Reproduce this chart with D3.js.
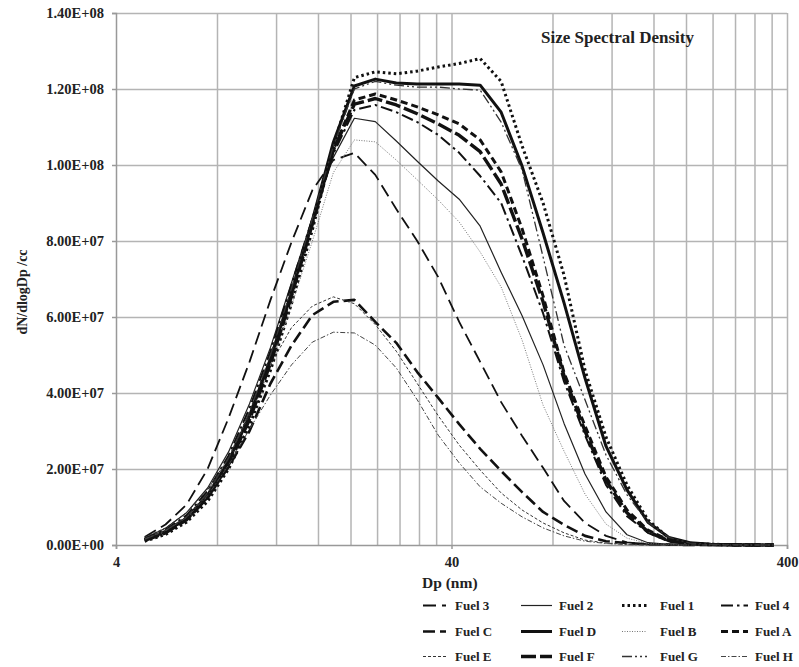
<!DOCTYPE html>
<html>
<head>
<meta charset="utf-8">
<script src="https://cdn.jsdelivr.net/npm/d3@7/dist/d3.min.js"></script>
<style>
  html, body { margin: 0; padding: 0; background: #fff; }
  svg { display: block; font-family: "Liberation Serif", "Times New Roman", serif; }
</style>
</head>
<body>
<svg id="chart" width="799" height="667"></svg>
<script>
// ---------- DATA (values in units of 1e7 particles / cc) ----------
const UNIT = 1e7;
const dp = [4.87, 5.62, 6.49, 7.50, 8.66, 10.0, 11.55, 13.34, 15.40, 17.78, 20.54, 23.71, 27.38, 31.62, 36.52,
            42.17, 48.70, 56.23, 64.94, 74.99, 86.60, 100.0, 115.5, 133.4, 154.0, 177.8, 205.4, 237.1, 273.8, 316.2, 365.2];

const fuel3 = [0.21,0.54,1.06,2.0,3.34,4.82,6.45,7.97,9.34, 10.13,10.32,9.74,8.84,8.0,7.05,5.87,4.82,3.76,2.87,2.03,1.16,0.58,0.24,0.07,0.02,0.01, 0,0,0,0,0];
const fuel2 = [0.18,0.44,0.85,1.5,2.45,3.72,5.2,6.9,8.6, 10.2,11.23,11.14,10.63,10.1,9.58,9.1,8.39,7.18,6.03,4.74,3.2,1.87,0.87,0.27,0.06,0.02,0.01, 0,0,0,0];
const fuel1 = [0.10,0.28,0.6,1.15,2.0,3.15,4.6,6.35,8.3, 10.5,12.3,12.45,12.4,12.47,12.58,12.67,12.8,12.2,10.5,9.0,7.1,4.6,2.84,1.58,0.66,0.18,0.05,0.02,0.01,0,0];
const fuel4 = [0.16,0.4,0.78,1.42,2.35,3.6,5.1,6.85,8.6, 10.3,11.45,11.58,11.39,11.13,10.79,10.32,9.71,9.0,7.6,6.1,4.3,2.89,1.58,0.76,0.32,0.1,0.03,0.01, 0,0,0];
const fuelC = [0.14,0.35,0.68,1.25,2.05,3.0,4.25,5.25,6.05, 6.4,6.45,5.87,5.32,4.55,3.87,3.18,2.53,1.95,1.39,0.87,0.53,0.24,0.1,0.05,0.02,0.01, 0,0,0,0,0];
const fuelD = [0.14,0.36,0.7,1.3,2.2,3.4,4.9,6.65,8.55, 10.6,12.08,12.26,12.16,12.13,12.13,12.13,12.1,11.39,9.97,8.21,6.37,4.39,2.6,1.45,0.6,0.2,0.06,0.02,0.01,0,0];
const fuelB = [0.13,0.34,0.68,1.28,2.15,3.3,4.7,6.3,8.0, 9.8,10.66,10.61,10.13,9.61,9.08,8.5,7.71,6.79,5.39,3.68,2.47,1.34,0.55,0.18,0.04,0.01, 0,0,0,0,0];
const fuelA = [0.14,0.35,0.7,1.3,2.2,3.4,4.88,6.6,8.5, 10.4,11.71,11.87,11.71,11.53,11.32,11.08,10.66,9.82,8.32,6.55,4.53,3.13,1.79,0.92,0.39,0.13,0.04,0.01, 0,0,0];
const fuelE = [0.2,0.45,0.85,1.45,2.3,3.4,4.75,5.72,6.29, 6.53,6.35,5.8,5.1,4.25,3.4,2.63,1.97,1.37,0.92,0.58,0.32,0.13,0.05,0.02,0.01, 0,0,0,0,0,0];
const fuelF = [0.12,0.32,0.66,1.25,2.12,3.3,4.78,6.55,8.45, 10.4,11.6,11.75,11.58,11.35,11.08,10.78,10.35,9.5,8.05,6.4,4.45,3.0,1.7,0.85,0.35,0.11,0.03,0.01, 0,0,0];
const fuelG = [0.15,0.38,0.74,1.36,2.28,3.5,5.0,6.75,8.6, 10.5,12.0,12.2,12.1,12.05,12.05,12.0,11.97,11.13,9.87,7.58,5.26,3.82,2.37,1.32,0.6,0.2,0.05,0.02,0.01,0,0];
const fuelH = [0.16,0.38,0.72,1.3,2.1,3.05,3.95,4.74,5.34, 5.6,5.58,5.26,4.66,3.82,2.89,2.16,1.53,1.1,0.74,0.45,0.24,0.1,0.04,0.01, 0,0,0,0,0,0,0];

const seriesNames = ["Fuel 3","Fuel 2","Fuel 1","Fuel 4","Fuel C","Fuel D","Fuel B","Fuel A","Fuel E","Fuel F","Fuel G","Fuel H"];
const seriesValues = [fuel3, fuel2, fuel1, fuel4, fuelC, fuelD, fuelB, fuelA, fuelE, fuelF, fuelG, fuelH];

const yTicks = [0, 2e7, 4e7, 6e7, 8e7, 1e8, 1.2e8, 1.4e8];
const xLabelTicks = [4, 40, 400];
const xGridTicks = [8,12,16,20,24,28,32,36,40,80,120,160,200,240,280,320,360,400];

const title = "Size Spectral Density";
const xTitle = "Dp (nm)";
const yTitle = "dN/dlogDp /cc";

// ---------- STYLES ----------
const styles = {
  "Fuel 3": {w: 1.8, dash: "13,6", color: "#111"},
  "Fuel 2": {w: 1.2, dash: null, color: "#222"},
  "Fuel 1": {w: 3.0, dash: "2.5,3", color: "#111"},
  "Fuel 4": {w: 2.0, dash: "12,4,2.5,4", color: "#111"},
  "Fuel C": {w: 2.6, dash: "12,5", color: "#111"},
  "Fuel D": {w: 3.0, dash: null, color: "#111"},
  "Fuel B": {w: 1.0, dash: "1,1.5", color: "#777"},
  "Fuel A": {w: 3.0, dash: "7,4", color: "#111"},
  "Fuel E": {w: 1.0, dash: "3,2", color: "#333"},
  "Fuel F": {w: 3.4, dash: "15,4", color: "#111"},
  "Fuel G": {w: 1.3, dash: "10,3,2,3,2,3", color: "#333"},
  "Fuel H": {w: 1.0, dash: "5,2,1.5,2", color: "#444"}
};

// ---------- CHART ----------
const svg = d3.select("#chart");
const L = 116, R = 787, T = 13, B = 545;

const x = d3.scaleLog().domain([4, 400]).range([L, R]);
const y = d3.scaleLinear().domain([0, 1.4e8]).range([B, T]);

// gridlines
const gridColor = "#b4b4b4";
svg.append("g")
  .attr("transform", `translate(0,${B})`)
  .call(d3.axisBottom(x).tickValues(xGridTicks).tickSize(-(B - T)).tickFormat(""))
  .call(g => g.select(".domain").remove())
  .call(g => g.selectAll("line").attr("stroke", gridColor).attr("stroke-width", 1.5));

svg.append("g")
  .attr("transform", `translate(${L},0)`)
  .call(d3.axisLeft(y).tickValues(yTicks.slice(1)).tickSize(-(R - L)).tickFormat(""))
  .call(g => g.select(".domain").remove())
  .call(g => g.selectAll("line").attr("stroke", gridColor).attr("stroke-width", 1.5));

// y axis
function sci(v) {
  if (v === 0) return "0.00E+00";
  const e = Math.floor(Math.log10(v) + 1e-9);
  const m = v / Math.pow(10, e);
  return m.toFixed(2) + "E+" + String(e).padStart(2, "0");
}
const yAxis = svg.append("g")
  .attr("transform", `translate(${L},0)`)
  .call(d3.axisLeft(y).tickValues(yTicks).tickSize(4).tickPadding(8).tickFormat(sci));
yAxis.select(".domain").attr("stroke", "#999").attr("stroke-width", 1.5);
yAxis.selectAll("line").attr("stroke", "#999").attr("stroke-width", 1.5);
yAxis.selectAll("text")
  .attr("font-family", "Liberation Serif, serif")
  .attr("font-weight", "bold").attr("font-size", 14.5).attr("fill", "#222");

// x axis
const xAxis = svg.append("g")
  .attr("transform", `translate(0,${B})`)
  .call(d3.axisBottom(x).tickValues(xLabelTicks).tickSize(4).tickPadding(8).tickFormat(d3.format("d")));
xAxis.select(".domain").attr("stroke", "#999").attr("stroke-width", 1.5);
xAxis.selectAll("line").attr("stroke", "#999").attr("stroke-width", 1.5);
xAxis.selectAll("text")
  .attr("font-family", "Liberation Serif, serif")
  .attr("font-weight", "bold").attr("font-size", 14.5).attr("fill", "#222");

// clip
svg.append("clipPath").attr("id", "plotclip")
  .append("rect").attr("x", L).attr("y", T - 4).attr("width", R - L + 2).attr("height", B - T + 6);

const line = d3.line()
  .x((d, i) => x(dp[i]))
  .y(d => y(d * UNIT));

const plot = svg.append("g").attr("clip-path", "url(#plotclip)");
seriesNames.forEach((name, si) => {
  const s = styles[name];
  plot.append("path")
    .datum(seriesValues[si])
    .attr("d", line)
    .attr("fill", "none")
    .attr("stroke", s.color)
    .attr("stroke-width", s.w)
    .attr("stroke-dasharray", s.dash)
    .attr("stroke-linejoin", "round");
});

// titles
svg.append("text").attr("x", 541).attr("y", 43)
  .attr("font-weight", "bold").attr("font-size", 17).attr("fill", "#222").text(title);

svg.append("text").attr("x", 422).attr("y", 588)
  .attr("font-weight", "bold").attr("font-size", 15.5).attr("fill", "#222").text(xTitle);

svg.append("text")
  .attr("transform", "translate(27,292) rotate(-90)")
  .attr("text-anchor", "middle")
  .attr("font-weight", "bold").attr("font-size", 14).attr("fill", "#222").text(yTitle);

// legend
const legendRows = [610, 636, 661];
const colSample = [[423, 446], [521, 552], [622, 647], [721, 748]];
const colText = [455, 559, 660, 755];
seriesNames.forEach((name, i) => {
  const r = Math.floor(i / 4), c = i % 4;
  const s = styles[name];
  const ly = legendRows[r] - 4.5;
  svg.append("line")
    .attr("x1", colSample[c][0]).attr("x2", colSample[c][1])
    .attr("y1", ly).attr("y2", ly)
    .attr("stroke", s.color).attr("stroke-width", s.w)
    .attr("stroke-dasharray", s.dash);
  svg.append("text").attr("x", colText[c]).attr("y", legendRows[r])
    .attr("font-weight", "bold").attr("font-size", 13).attr("fill", "#222").text(name);
});
</script>
</body>
</html>
